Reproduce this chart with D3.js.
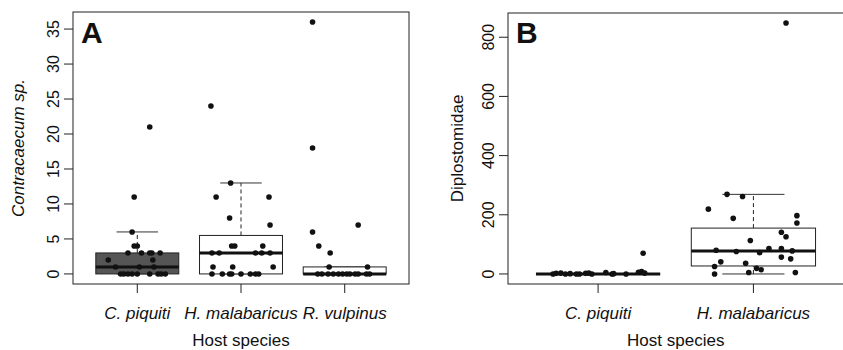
<!DOCTYPE html>
<html>
<head>
<meta charset="utf-8">
<script src="https://cdn.jsdelivr.net/npm/d3@7"></script>
<style>
  body { margin: 0; background: #fff; }
  svg { display: block; font-family: "Liberation Sans", Arial, Helvetica, sans-serif; }
</style>
</head>
<body>
<div id="svg-container"></div>
<script>
////////////////////////////////////////////////////////////////////
////////////////////////////  Data  ////////////////////////////////
const hostsA = ["C. piquiti", "H. malabaricus", "R. vulpinus"];
const hostsB = ["C. piquiti", "H. malabaricus"];

// Contracaecum sp. per fish + jitter (category units)
const contraCpiquiti = [21, 11, 6, 4, 4, 3, 3, 3, 3, 3, 2, 2, 1, 1, 1, 0, 0, 0, 0, 0, 0, 0, 0, 0];
const contraCpiquitiJit = [0.12, -0.03, -0.05, -0.03, 0.0, -0.09, 0.04, 0.12, 0.14, 0.22, -0.28, 0.15, -0.21, 0.02, 0.16, -0.16, -0.13, -0.09, -0.05, 0.0, 0.12, 0.2, 0.23, 0.27];
const contraHmalab = [24, 13, 11, 11, 8, 7, 4, 4, 4, 3, 3, 3, 3, 3, 1, 1, 1, 0, 0, 0, 0, 0, 0, 0, 0];
const contraHmalabJit = [-0.29, -0.1, -0.24, 0.27, -0.11, 0.28, -0.09, -0.06, 0.21, -0.28, -0.21, 0.14, 0.2, 0.28, -0.27, -0.08, 0.31, -0.28, -0.18, -0.11, -0.09, 0.0, 0.09, 0.14, 0.17];
const contraRvulp = [36, 18, 7, 6, 4, 3, 1, 1, 0, 0, 0, 0, 0, 0, 0, 0, 0, 0, 0, 0];
const contraRvulpJit = [-0.31, -0.31, 0.13, -0.31, -0.25, -0.14, -0.15, 0.22, -0.26, -0.22, -0.16, -0.11, -0.06, -0.02, 0.02, 0.05, 0.1, 0.13, 0.21, 0.24];

// Diplostomidae per fish
const diploCpiquiti = [70, 0, 2, 3, 0, 1, 0, 0, 2, 3, 0, 5, 0, 1, 0, 6, 8, 3];
const diploCpiquitiJit = [0.29, -0.29, -0.27, -0.24, -0.21, -0.18, -0.14, -0.12, -0.08, -0.06, -0.04, 0.05, 0.09, 0.1, 0.18, 0.26, 0.28, 0.3];
const diploHmalab = [848, 269, 262, 219, 197, 188, 172, 141, 126, 113, 86, 86, 80, 76, 78, 72, 57, 51, 41, 36, 25, 19, 14, 0, 5, 5];
const diploHmalabJit = [0.21, -0.17, -0.07, -0.29, 0.28, -0.13, 0.28, 0.18, 0.21, -0.02, 0.1, 0.18, -0.24, -0.11, 0.25, 0.04, 0.18, 0.24, -0.21, -0.05, -0.25, 0.02, 0.05, -0.25, -0.03, 0.27];

// box stats: [lower whisker, Q1, median, Q3, upper whisker]
const boxA = [[0, 0, 1, 3, 6], [0, 0, 3, 5.5, 13], [0, 0, 0, 1, 1]];
const boxB = [[0, 0, 0, 0, 0], [0, 27, 78, 155, 269]];

const ticksA = [0, 5, 10, 15, 20, 25, 30, 35];
const ticksB = [0, 200, 400, 600, 800];

////////////////////////////////////////////////////////////////////
////////////////////////////  Init  ////////////////////////////////
const width = 843;
const height = 350;
const darkFill = "#555555";
const ink = "#111";

const svg = d3
  .select("#svg-container")
  .append("svg")
  .attr("width", width)
  .attr("height", height);

svg.append("rect").attr("width", width).attr("height", height).attr("fill", "#fff");

const drawPanel = (p) => {
  const n = p.hosts.length;
  // R style: 4% padding on both axes
  const x = d3
    .scaleLinear()
    .domain([0.5 - 0.04 * n, n + 0.5 + 0.04 * n])
    .range([p.left, p.right]);
  const ymax = d3.max(p.groups, (g) => d3.max(g.values));
  const y = d3
    .scaleLinear()
    .domain([-0.04 * ymax, 1.04 * ymax])
    .range([p.bottom, p.top]);

  const g = svg.append("g");
  const boxW = 0.4;

  // boxes
  p.boxes.forEach((b, i) => {
    const c = i + 1;
    g.append("line")
      .attr("x1", x(c)).attr("x2", x(c))
      .attr("y1", y(b[3])).attr("y2", y(b[4]))
      .attr("stroke", "#222").attr("stroke-dasharray", "4,3");
    g.append("line")
      .attr("x1", x(c)).attr("x2", x(c))
      .attr("y1", y(b[0])).attr("y2", y(b[1]))
      .attr("stroke", "#222").attr("stroke-dasharray", "4,3");
    [b[0], b[4]].forEach((v) => {
      g.append("line")
        .attr("x1", x(c - boxW / 2)).attr("x2", x(c + boxW / 2))
        .attr("y1", y(v)).attr("y2", y(v))
        .attr("stroke", "#333").attr("stroke-width", 1);
    });
    g.append("rect")
      .attr("x", x(c - boxW))
      .attr("y", y(b[3]))
      .attr("width", x(c + boxW) - x(c - boxW))
      .attr("height", y(b[1]) - y(b[3]))
      .attr("fill", p.fills[i])
      .attr("stroke", "#222")
      .attr("stroke-width", 1);
    g.append("line")
      .attr("x1", x(c - boxW)).attr("x2", x(c + boxW))
      .attr("y1", y(b[2])).attr("y2", y(b[2]))
      .attr("stroke", ink).attr("stroke-width", 3);
  });

  // jittered points
  p.groups.forEach((grp, i) => {
    g.selectAll(null)
      .data(grp.values)
      .enter()
      .append("circle")
      .attr("cx", (d, j) => x(i + 1 + grp.jit[j]))
      .attr("cy", (d) => y(d))
      .attr("r", 2.8)
      .attr("fill", ink);
  });

  // frame
  g.append("rect")
    .attr("x", p.left).attr("y", p.top)
    .attr("width", p.right - p.left).attr("height", p.bottom - p.top)
    .attr("fill", "none").attr("stroke", "#222").attr("stroke-width", 1);

  // y axis
  const tickLen = 9;
  p.yTicks.forEach((t) => {
    g.append("line")
      .attr("x1", p.left - tickLen).attr("x2", p.left)
      .attr("y1", y(t)).attr("y2", y(t))
      .attr("stroke", "#222");
    g.append("text")
      .attr("transform", `translate(${p.left - 20},${y(t)}) rotate(-90)`)
      .attr("text-anchor", "middle")
      .attr("dy", "0.36em")
      .attr("font-size", 16)
      .attr("fill", ink)
      .text(t);
  });
  g.append("text")
    .attr("transform", `translate(${p.left - p.yLabelOff},${(p.top + p.bottom) / 2}) rotate(-90)`)
    .attr("text-anchor", "middle")
    .attr("font-size", 17)
    .attr("font-style", p.yItalic ? "italic" : "normal")
    .attr("fill", ink)
    .text(p.yLabel);

  // x axis
  p.hosts.forEach((h, i) => {
    g.append("line")
      .attr("x1", x(i + 1)).attr("x2", x(i + 1))
      .attr("y1", p.bottom).attr("y2", p.bottom + tickLen)
      .attr("stroke", "#222");
    g.append("text")
      .attr("x", x(i + 1))
      .attr("y", 319)
      .attr("text-anchor", "middle")
      .attr("font-size", 17)
      .attr("font-style", "italic")
      .attr("fill", ink)
      .text(h);
  });
  g.append("text")
    .attr("x", (p.left + p.right) / 2)
    .attr("y", 346)
    .attr("text-anchor", "middle")
    .attr("font-size", 17)
    .attr("fill", ink)
    .text("Host species");

  // panel letter
  g.append("text")
    .attr("x", p.left + 8)
    .attr("y", 43)
    .attr("font-size", 30)
    .attr("font-weight", "bold")
    .attr("fill", ink)
    .text(p.letter);
};

////////////////////////////////////////////////////////////////////
////////////////////////////  Draw  ////////////////////////////////
drawPanel({
  left: 73, right: 409, top: 12, bottom: 284,
  hosts: hostsA,
  groups: [
    { values: contraCpiquiti, jit: contraCpiquitiJit },
    { values: contraHmalab, jit: contraHmalabJit },
    { values: contraRvulp, jit: contraRvulpJit },
  ],
  boxes: boxA,
  fills: [darkFill, "#fff", "#fff"],
  yTicks: ticksA,
  yLabel: "Contracaecum sp.",
  yItalic: true,
  yLabelOff: 49,
  letter: "A",
});

drawPanel({
  left: 508, right: 843.5, top: 13, bottom: 284,
  hosts: hostsB,
  groups: [
    { values: diploCpiquiti, jit: diploCpiquitiJit },
    { values: diploHmalab, jit: diploHmalabJit },
  ],
  boxes: boxB,
  fills: ["#fff", "#fff"],
  yTicks: ticksB,
  yLabel: "Diplostomidae",
  yItalic: false,
  yLabelOff: 45,
  letter: "B",
});
</script>
</body>
</html>
